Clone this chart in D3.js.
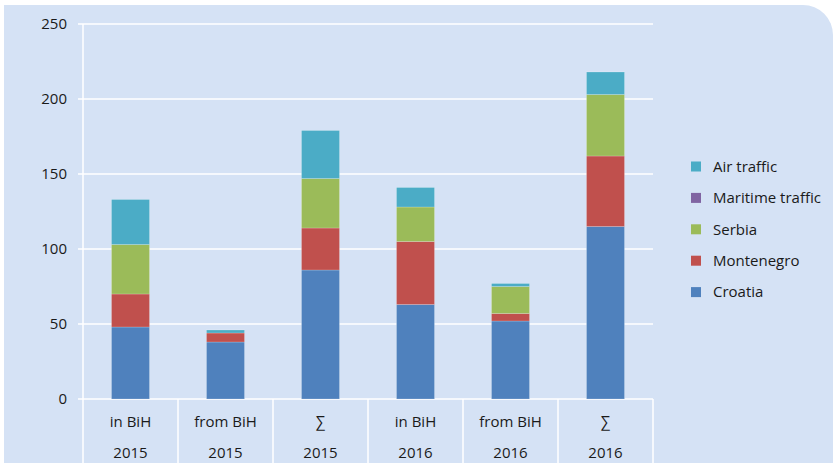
<!DOCTYPE html>
<html>
<head>
<meta charset="utf-8">
<script src="https://cdn.jsdelivr.net/npm/d3@7"></script>
<style>
  body { margin: 0; background: #fff; }
  svg { display: block; font-family: "Open Sans", Lato, sans-serif; }
</style>
</head>
<body>
<script>
// categories (two-line labels)
var catTop = ["in BiH", "from BiH", "\u2211", "in BiH", "from BiH", "\u2211"];
var catYear = ["2015", "2015", "2015", "2016", "2016", "2016"];

// series values
var croatia    = [48, 38, 86, 63, 52, 115];
var montenegro = [22, 6, 28, 42, 5, 47];
var serbia     = [33, 0, 33, 23, 18, 41];
var maritime   = [0, 0, 0, 0, 0, 0];
var air        = [30, 2, 32, 13, 2, 15];

var seriesNames = ["Croatia", "Montenegro", "Serbia", "Maritime traffic", "Air traffic"];
var seriesColors = ["#4f81bd", "#c0504d", "#9bbb59", "#8064a2", "#4bacc6"];
var yTicks = [0, 50, 100, 150, 200, 250];

var W = 833, H = 463;
var margin = {top: 24, left: 83, right: 180, bottom: 64};
var width = 653 - margin.left,
    height = 399 - margin.top;
var fontSize = "15px";

var svg = d3.select("body").append("svg")
    .attr("width", W)
    .attr("height", H);

// panel background with rounded top-right corner
svg.append("path")
    .attr("d", "M4,5 H803 A30,30 0 0 1 833,35 V463 H4 Z")
    .attr("fill", "#d5e2f5");

var table = catTop.map(function(c, i) {
  return {
    key: i,
    "Croatia": croatia[i],
    "Montenegro": montenegro[i],
    "Serbia": serbia[i],
    "Maritime traffic": maritime[i],
    "Air traffic": air[i]
  };
});

var stacked = d3.stack().keys(seriesNames)(table);

var x = d3.scaleBand()
    .domain(d3.range(catTop.length))
    .range([0, width])
    .paddingInner(0.6)
    .paddingOuter(0.3);
var xCat = d3.scaleBand()
    .domain(d3.range(catTop.length))
    .range([0, width]);
var y = d3.scaleLinear()
    .domain([0, 250])
    .range([height, 0]);

var color = d3.scaleOrdinal().domain(seriesNames).range(seriesColors);

var g = svg.append("g")
    .attr("transform", "translate(" + margin.left + "," + margin.top + ")");

// gridlines
g.append("g")
  .selectAll("line")
  .data(yTicks)
  .enter().append("line")
    .attr("x1", -5)
    .attr("x2", width)
    .attr("y1", function(d) { return y(d); })
    .attr("y2", function(d) { return y(d); })
    .attr("stroke", "#fff")
    .attr("stroke-width", 1.5);

// y axis line
g.append("line")
    .attr("x1", 0).attr("x2", 0)
    .attr("y1", 0).attr("y2", height)
    .attr("stroke", "#fff")
    .attr("stroke-width", 1.5);

// category separators below the axis
g.append("g")
  .selectAll("line")
  .data(d3.range(catTop.length + 1))
  .enter().append("line")
    .attr("x1", function(d) { return d * xCat.bandwidth(); })
    .attr("x2", function(d) { return d * xCat.bandwidth(); })
    .attr("y1", height)
    .attr("y2", H - margin.top)
    .attr("stroke", "#fff")
    .attr("stroke-width", 1.5);

// y tick labels
g.append("g")
  .selectAll("text")
  .data(yTicks)
  .enter().append("text")
    .attr("x", -16)
    .attr("y", function(d) { return y(d); })
    .attr("dy", "0.35em")
    .attr("text-anchor", "end")
    .attr("fill", "#1a1a1a")
    .style("font-size", fontSize)
    .text(function(d) { return d; });

// bars
g.selectAll(".layer")
    .data(stacked)
  .enter().append("g")
    .attr("class", "layer")
    .attr("fill", function(d) { return color(d.key); })
  .selectAll("rect")
    .data(function(d) { return d; })
  .enter().append("rect")
    .attr("x", function(d, i) { return x(i); })
    .attr("width", x.bandwidth())
    .attr("y", function(d) { return y(d[1]); })
    .attr("height", function(d) { return y(d[0]) - y(d[1]); })
    .attr("stroke", "rgba(255,255,255,0.25)")
    .attr("stroke-width", 0.8);

// x labels
var xl = g.append("g")
  .selectAll("g")
  .data(catTop)
  .enter().append("g")
    .attr("transform", function(d, i) {
      return "translate(" + (xCat(i) + xCat.bandwidth() / 2) + "," + height + ")";
    });
xl.append("text")
    .attr("y", 23)
    .attr("dy", "0.35em")
    .attr("text-anchor", "middle")
    .attr("fill", "#1a1a1a")
    .style("font-size", fontSize)
    .text(function(d) { return d; });
xl.append("text")
    .attr("y", 54)
    .attr("dy", "0.35em")
    .attr("text-anchor", "middle")
    .attr("fill", "#1a1a1a")
    .style("font-size", fontSize)
    .text(function(d, i) { return catYear[i]; });

// legend (top entry is last series)
var legendOrder = seriesNames.slice().reverse();
var legend = svg.append("g")
  .selectAll("g")
  .data(legendOrder)
  .enter().append("g")
    .attr("transform", function(d, i) {
      return "translate(691," + (166.5 + i * 31.4) + ")";
    });
legend.append("rect")
    .attr("x", 0)
    .attr("y", -5)
    .attr("width", 10)
    .attr("height", 10)
    .attr("fill", function(d) { return color(d); });
legend.append("text")
    .attr("x", 22)
    .attr("dy", "0.35em")
    .attr("fill", "#1a1a1a")
    .style("font-size", fontSize)
    .text(function(d) { return d; });
</script>
</body>
</html>
